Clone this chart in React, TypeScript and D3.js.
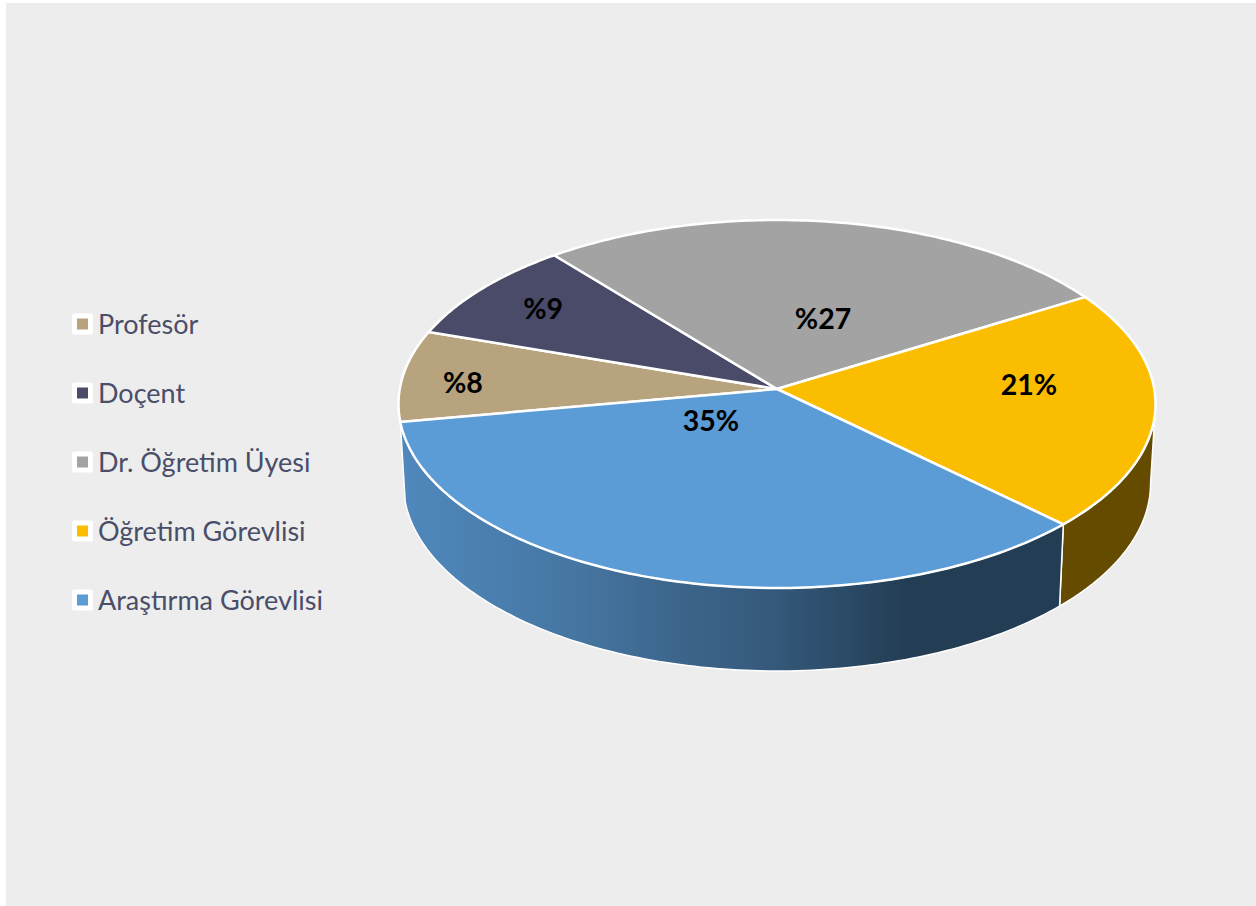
import React from "react";
import * as d3 from "d3";

const categories = ["Profesör", "Doçent", "Dr. Öğretim Üyesi", "Öğretim Görevlisi", "Araştırma Görevlisi"];
const values = [8.04, 9, 27.03, 21.08, 34.85];
const valueLabels = ["%8", "%9", "%27", "21%", "35%"];
const topColors = ["#b7a37e", "#4a4b69", "#a3a3a3", "#fbbd00", "#5b9bd6"];
const wallColors = ["#6e6149", "#2c2d3f", "#626262", "#644b00", "url(#blueWall)"];

// Label anchors in the pie's own unit-disc coordinates (u right, v back)
const labelU = [-0.835, -0.643, 0.126, 0.669, -0.1725];
const labelV = [0.033, 0.454, 0.395, 0.022, -0.173];

const W = 1256, H = 906;
const startDeg = 259.75;
const cx = 777, apexY = 389, backY = 220, frontY = 588, halfWidth = 378.5;
const persp = (backY + frontY - 2 * apexY) / (frontY - backY);
const yCoef = backY * (1 + persp) - apexY;
const xCoef = halfWidth * Math.sqrt(1 - persp * persp);
const wallScale = 0.987, wallDrop = 79, wallDropFront = 4;

const scaleU = d3.scaleLinear().domain([0, 1]).range([0, xCoef]);
const scaleV = d3.scaleLinear().domain([0, 1]).range([apexY, apexY + yCoef]);

function project(u: number, v: number): [number, number] {
  const w = 1 + persp * v;
  return [cx + scaleU(u) / w, scaleV(v) / w];
}
function lower(u: number, v: number): [number, number] {
  const [x, y] = project(u, v);
  return [cx + (x - cx) * wallScale, y + wallDrop - wallDropFront * v];
}
const unit = (a: number): [number, number] => [Math.sin(a), Math.cos(a)];
const samples = (a0: number, a1: number) => d3.range(0, 121).map((i) => a0 + ((a1 - a0) * i) / 120);

const arcs = d3.pie<number>().sort(null).value((d) => d)
  .startAngle((startDeg * Math.PI) / 180)
  .endAngle((startDeg * Math.PI) / 180 + 2 * Math.PI)(values);

const line = d3.line();

function slicePath(a0: number, a1: number) {
  const pts = samples(a0, a1).map((a) => project(...unit(a)));
  return line([project(0, 0), ...pts])! + "Z";
}
function wallPath(a0: number, a1: number) {
  const as = samples(a0, a1);
  const top = as.map((a) => project(...unit(a)));
  const bottom = as.slice().reverse().map((a) => lower(...unit(a)));
  return line([...top, ...bottom])! + "Z";
}

// The wall is only visible on the front, between the silhouette and the corners.
// The pie's angles run past a full turn here, so the silhouette is taken on the same turn.
const silhouetteRight = 2 * Math.PI + Math.PI / 2 + Math.asin(persp);
const wallRanges: ([number, number] | null)[] = arcs.map((a, i) => {
  if (i === 3) return [silhouetteRight, a.endAngle];
  if (i === 4) return [a.startAngle, a.endAngle];
  return null;
});

const legendY = d3.scalePoint<string>().domain(categories).range([324, 600]);

export default function App() {
  return (
    <svg width={W} height={H} viewBox={`0 0 ${W} ${H}`}
      style={{ position: "absolute", left: 0, top: 0, display: "block" }}>
      <defs>
        <linearGradient id="blueWall" gradientUnits="userSpaceOnUse" x1={400} x2={1060} y1={0} y2={0}>
          <stop offset="0" stopColor="#5088bd" />
          <stop offset="0.2545" stopColor="#4677a3" />
          <stop offset="0.424" stopColor="#3c658b" />
          <stop offset="0.574" stopColor="#34587a" />
          <stop offset="0.765" stopColor="#233e54" />
          <stop offset="1" stopColor="#233e54" />
        </linearGradient>
      </defs>
      <rect width={W} height={H} fill="#fff" />
      <rect x={6} y={3} width={W - 6} height={H - 3} fill="#ededed" />

      {arcs.map((a, i) => {
        const r = wallRanges[i];
        return r ? (
          <path key={i} d={wallPath(r[0], r[1])} fill={wallColors[i]} stroke="#fff" strokeWidth={1.5} strokeLinejoin="round" />
        ) : null;
      })}
      {arcs.map((a, i) => (
        <path key={i} d={slicePath(a.startAngle, a.endAngle)} fill={topColors[i]} stroke="#fff" strokeWidth={2.5} strokeLinejoin="round" />
      ))}
      {valueLabels.map((t, i) => {
        const [x, y] = project(labelU[i], labelV[i]);
        return (
          <text key={t} x={x} y={y} dy="0.35em" textAnchor="middle" fontFamily="Lato, 'Open Sans', sans-serif"
            fontWeight={700} fontSize={28.5} fill="#000">{t}</text>
        );
      })}
      {categories.map((c, i) => {
        const y = legendY(c)!;
        return (
          <g key={c}>
            <rect x={72} y={y - 10.5} width={21} height={21} rx={2.5} fill="#fff" />
            <rect x={77} y={y - 5.5} width={11} height={11} fill={topColors[i]} />
            <text x={98} y={y + 1} dy="0.35em" fontFamily="Lato, 'Open Sans', sans-serif" fontSize={27} fill="#4a4e69">{c}</text>
          </g>
        );
      })}
    </svg>
  );
}
